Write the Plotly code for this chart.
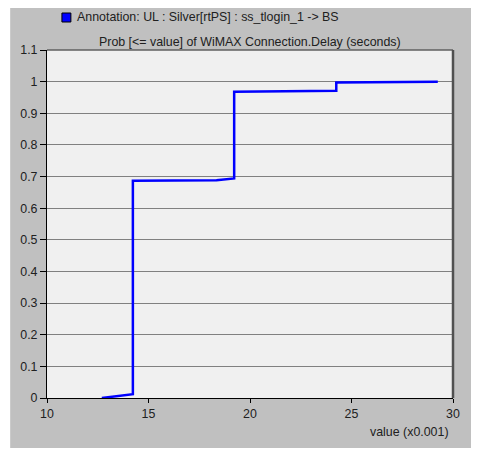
import plotly.graph_objects as go

# Data (x in units of 0.001 s)
delay_x = [12.7, 14.23, 14.23, 18.35, 19.22, 19.22, 24.25, 24.25, 29.25]
cum_prob = [0.0, 0.012, 0.687, 0.688, 0.694, 0.968, 0.971, 0.997, 1.0]
x_ticks = [10, 15, 20, 25, 30]
y_ticks = [0, 0.1, 0.2, 0.3, 0.4, 0.5, 0.6, 0.7, 0.8, 0.9, 1, 1.1]
legend_text = "Annotation: UL : Silver[rtPS] : ss_tlogin_1 -> BS"
title_text = "Prob [<= value] of WiMAX Connection.Delay (seconds)"
x_title = "value (x0.001)"

OFF = 8  # page body margin
W, H = 479, 449
L, T = 45 - OFF, 50 - OFF
pw, ph = 408, 348
R, B = W - L - pw, H - T - ph

def px(xp):
    return (xp - OFF - L) / pw

def py(yp):
    return (T + ph - (yp - OFF)) / ph

FONT = "Liberation Sans, Arial, sans-serif"

fig = go.Figure()
fig.add_trace(go.Scatter(x=delay_x, y=cum_prob, mode="lines",
                         line=dict(color="#0000ff", width=2.5),
                         showlegend=False, hoverinfo="skip"))

shapes = [
    dict(type="rect", xref="paper", yref="paper", x0=px(8), x1=px(479), y0=py(448), y1=py(8),
         fillcolor="#c0c0c0", line=dict(width=0), layer="below"),
    dict(type="rect", xref="paper", yref="paper", x0=0, x1=1, y0=0, y1=1,
         fillcolor="#f0f0f0", line=dict(width=0), layer="below"),
    dict(type="line", xref="paper", yref="paper", x0=0, x1=1, y0=1, y1=1,
         line=dict(color="#606060", width=1.5)),
    dict(type="line", xref="paper", yref="paper", x0=1, x1=1, y0=0, y1=1,
         line=dict(color="#505050", width=2.5)),
    dict(type="rect", xref="paper", yref="paper", x0=px(60), x1=px(69), y0=py(22), y1=py(13),
         fillcolor="#0000ff", line=dict(color="#000000", width=1)),
]

annotations = [
    dict(text=legend_text, xref="paper", yref="paper", x=px(73), y=py(17.5),
         xanchor="left", yanchor="middle", showarrow=False,
         font=dict(family=FONT, size=12.4, color="#202020")),
    dict(text=title_text, xref="paper", yref="paper", x=px(249), y=py(42),
         xanchor="center", yanchor="middle", showarrow=False,
         font=dict(family=FONT, size=12.4, color="#202020")),
    dict(text=x_title, xref="paper", yref="paper", x=px(451), y=py(432),
         xanchor="right", yanchor="middle", showarrow=False,
         font=dict(family=FONT, size=12.4, color="#202020")),
]

fig.update_layout(
    width=W, height=H,
    margin=dict(l=L, r=R, t=T, b=B),
    paper_bgcolor="#ffffff",
    plot_bgcolor="rgba(0,0,0,0)",
    shapes=shapes,
    annotations=annotations,
    font=dict(family=FONT, size=12.4, color="#202020"),
    xaxis=dict(range=[10, 30], tickvals=x_ticks, showgrid=False, zeroline=False,
               showline=True, linecolor="#000000", linewidth=1,
               ticks="outside", ticklen=4, tickcolor="#000000"),
    yaxis=dict(range=[0, 1.1], tickvals=y_ticks, showgrid=True, gridcolor="#808080",
               gridwidth=1, zeroline=False, showline=True, linecolor="#000000",
               linewidth=1, ticks="outside", ticklen=6, tickcolor="#000000"),
)

fig.write_html("out.html")
